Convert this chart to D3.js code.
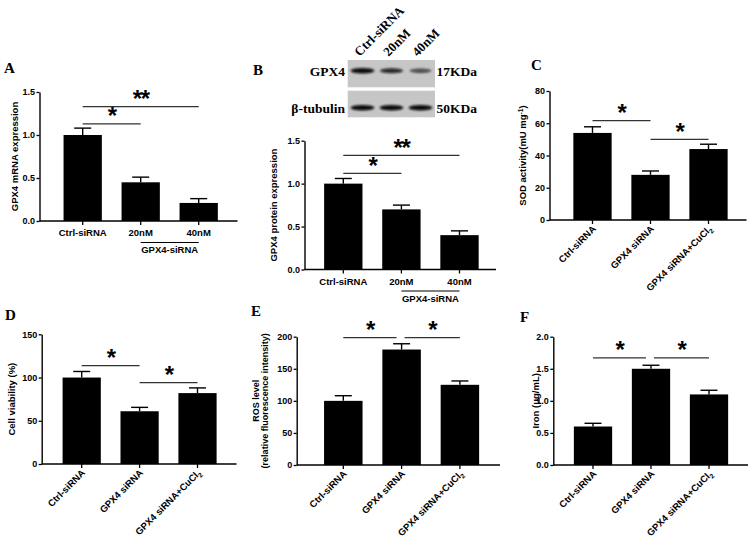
<!DOCTYPE html>
<html lang="en">
<head>
<meta charset="UTF-8">
<title>GPX4 knockdown panels</title>
<script src="https://d3js.org/d3.v7.min.js"></script>
<style>
  body { margin: 0; background: #fff; }
  text { font-family: "Liberation Sans", Arial, sans-serif; font-weight: bold; fill: #000; }
  .serif { font-family: "Liberation Serif", "Times New Roman", serif; }
</style>
</head>
<body>
<div id="chart"></div>
<script>
// ---- data ----
const doseGroups = ["Ctrl-siRNA", "20nM", "40nM"];
const rescueGroups = ["Ctrl-siRNA", "GPX4 siRNA", "GPX4 siRNA+CuCl_2"];

const mrnaMean = [1.0, 0.45, 0.21];
const mrnaErr = [0.08, 0.06, 0.05];
const proteinMean = [1.0, 0.70, 0.40];
const proteinErr = [0.06, 0.05, 0.05];
const sodMean = [54, 28, 44];
const sodErr = [3.8, 2.4, 3];
const viabilityMean = [100, 61, 82];
const viabilityErr = [7, 4.5, 6];
const rosMean = [100, 180, 125];
const rosErr = [8, 9, 6];
const ironMean = [0.6, 1.5, 1.1];
const ironErr = [0.05, 0.055, 0.065];

const ticksRatio = [0, 0.5, 1.0, 1.5];
const ticksSod = [0, 20, 40, 60, 80];
const ticksViability = [0, 50, 100, 150];
const ticksRos = [0, 50, 100, 150, 200];
const ticksIron = [0, 0.5, 1.0, 1.5, 2.0];

// significance brackets: [from, to, label, height in data units]
const sigMrna = [[0, 1, "*", 1.13], [0, 2, "**", 1.33]];
const sigProtein = [[0, 1, "*", 1.12], [0, 2, "**", 1.33]];
const sigSod = [[0, 1, "*", 61.6], [1, 2, "*", 50]];
const sigViability = [[0, 1, "*", 113.7], [1, 2, "*", 94]];
const sigRos = [[0, 1, "*", 198.5], [1, 2, "*", 198.5]];
const sigIron = [[0, 1, "*", 1.67], [1, 2, "*", 1.67]];

// western blot lanes and relative band strength
const blotLanes = ["Ctrl-siRNA", "20nM", "40nM"];
const gpx4Band = [1.0, 0.78, 0.5];
const tubulinBand = [1.0, 1.0, 1.0];

const w = 750;
const h = 544;

const svg = d3.select("#chart").append("svg")
    .attr("width", w)
    .attr("height", h);

const defs = svg.append("defs");
defs.append("filter").attr("id", "blur")
    .attr("x", "-20%").attr("y", "-80%").attr("width", "140%").attr("height", "260%")
    .append("feGaussianBlur").attr("stdDeviation", "1.1 1.0");

// write "a_2" as subscript, "a^-1" as superscript
function richText(sel, str, size) {
    const m = str.match(/^(.*?)([_^])(.+?)(\).*)?$/);
    if (!m) { sel.text(str); return; }
    sel.append("tspan").text(m[1]);
    const shift = m[2] === "_" ? 2.5 : -3.5;
    sel.append("tspan").attr("dy", shift).attr("font-size", size * 0.7).text(m[3]);
    if (m[4]) sel.append("tspan").attr("dy", -shift).text(m[4]);
}

function drawPanel(p) {
    const n = p.groups.length;
    const y = d3.scaleLinear().domain([0, p.yMax]).range([p.y0, p.yTop]);
    const x = d3.scaleBand()
        .domain(d3.range(n))
        .range([p.cx0 - p.step / 2, p.cx0 + p.step * (n - 0.5)])
        .paddingInner(0.34)
        .paddingOuter(0.17);
    const cx = i => x(i) + x.bandwidth() / 2;

    const g = svg.append("g");

    // error bars (upper only)
    const eb = g.selectAll("g.err").data(p.mean).join("g").attr("class", "err");
    eb.append("line")
        .attr("x1", (d, i) => cx(i)).attr("x2", (d, i) => cx(i))
        .attr("y1", d => y(d)).attr("y2", (d, i) => y(d + p.err[i]))
        .attr("stroke", "#000").attr("stroke-width", 1.4);
    eb.append("line")
        .attr("x1", (d, i) => cx(i) - 8.5).attr("x2", (d, i) => cx(i) + 8.5)
        .attr("y1", (d, i) => y(d + p.err[i])).attr("y2", (d, i) => y(d + p.err[i]))
        .attr("stroke", "#000").attr("stroke-width", 1.4);

    g.selectAll("rect.bar").data(p.mean).join("rect")
        .attr("class", "bar")
        .attr("x", (d, i) => x(i))
        .attr("width", x.bandwidth())
        .attr("y", d => y(d))
        .attr("height", d => y(0) - y(d))
        .attr("fill", "#000");

    // y axis
    const yAxis = d3.axisLeft(y).tickValues(p.ticks).tickFormat(p.fmt)
        .tickSize(3).tickSizeOuter(0).tickPadding(1.5);
    const ya = g.append("g")
        .attr("transform", "translate(" + p.axisX + ",0)")
        .call(yAxis);
    ya.select(".domain").attr("stroke-width", 1.4);
    ya.selectAll(".tick line").attr("stroke-width", 1.3);
    ya.selectAll("text").attr("font-size", 9).attr("fill", "#000")
        .style("font-family", "'Liberation Sans', Arial, sans-serif").style("font-weight", "bold");

    // x axis: baseline from the y axis to the end, ticks at bar centres
    const xAxis = d3.axisBottom(x).tickSize(4).tickSizeOuter(0).tickFormat("");
    const xa = g.append("g")
        .attr("transform", "translate(0," + p.y0 + ")")
        .call(xAxis);
    xa.select(".domain").remove();
    xa.selectAll(".tick line").attr("stroke-width", 1.3);
    g.append("line")
        .attr("x1", p.axisX).attr("x2", p.xEnd)
        .attr("y1", p.y0).attr("y2", p.y0)
        .attr("stroke", "#000").attr("stroke-width", 1.4);

    // category labels
    if (p.rotate) {
        g.selectAll("text.cat").data(p.groups).join("text")
            .attr("class", "cat")
            .attr("font-size", 9.5)
            .attr("text-anchor", "end")
            .attr("transform", (d, i) => "translate(" + (cx(i) + 4) + "," + (p.y0 + 9.5) + ") rotate(-45)")
            .each(function (d) { richText(d3.select(this), d, 9.5); });
    } else {
        g.selectAll("text.cat").data(p.groups).join("text")
            .attr("class", "cat")
            .attr("font-size", 9.5)
            .attr("text-anchor", "middle")
            .attr("x", (d, i) => cx(i))
            .attr("y", p.y0 + 15)
            .text(d => d);
        // group bracket under the siRNA doses
        g.append("line")
            .attr("x1", cx(1)).attr("x2", cx(2))
            .attr("y1", p.y0 + 21.5).attr("y2", p.y0 + 21.5)
            .attr("stroke", "#000").attr("stroke-width", 1.2);
        g.append("text")
            .attr("font-size", 9.5)
            .attr("text-anchor", "middle")
            .attr("x", (cx(1) + cx(2)) / 2)
            .attr("y", p.y0 + 32)
            .text(p.groupLabel);
    }

    // y label (one or two lines)
    const lines = Array.isArray(p.yLabel) ? p.yLabel : [p.yLabel];
    const ymid = (p.y0 + p.yTop) / 2;
    lines.forEach((t, k) => {
        const lx = p.axisX - p.yLabelOff + k * 9.5 - (lines.length - 1) * 9.5;
        const lt = g.append("text")
            .attr("font-size", lines.length > 1 ? 9 : 9.5)
            .attr("text-anchor", "middle")
            .attr("transform", "translate(" + lx + "," + ymid + ") rotate(-90)");
        richText(lt, t, 9.5);
    });

    // significance brackets
    p.sig.forEach(s => {
        let x1 = cx(s[0]);
        let x2 = cx(s[1]);
        if (p.sig.some(o => o !== s && o[0] === s[1] && o[3] === s[3])) x2 -= 5;
        if (p.sig.some(o => o !== s && o[1] === s[0] && o[3] === s[3])) x1 += 3;
        const ly = y(s[3]);
        g.append("line")
            .attr("x1", x1).attr("x2", x2)
            .attr("y1", ly).attr("y2", ly)
            .attr("stroke", "#333").attr("stroke-width", 1.3);
        g.append("text")
            .attr("font-size", 24)
            .attr("letter-spacing", -1.5)
            .attr("text-anchor", "middle")
            .attr("x", (x1 + x2) / 2)
            .attr("y", ly + 0.5)
            .text(s[2]);
    });

    // panel letter
    svg.append("text")
        .attr("class", "serif")
        .attr("font-size", 15)
        .attr("x", p.letterX).attr("y", p.letterY)
        .text(p.letter);
}

const fmt1 = d3.format(".1f");
const fmt0 = d3.format("d");

drawPanel({ letter: "A", letterX: 4, letterY: 73, groups: doseGroups, mean: mrnaMean, err: mrnaErr,
    ticks: ticksRatio, yMax: 1.5, fmt: fmt1, sig: sigMrna, yLabel: "GPX4 mRNA expression", groupLabel: "GPX4-siRNA",
    axisX: 39.5, y0: 221, yTop: 92, xEnd: 237.5, cx0: 82.7, step: 58, yLabelOff: 22, rotate: false });

drawPanel({ letter: "B", letterX: 253, letterY: 75, groups: doseGroups, mean: proteinMean, err: proteinErr,
    ticks: ticksRatio, yMax: 1.5, fmt: fmt1, sig: sigProtein, yLabel: "GPX4 protein expression", groupLabel: "GPX4-siRNA",
    axisX: 304.5, y0: 269.5, yTop: 140.7, xEnd: 496, cx0: 343.3, step: 58.1, yLabelOff: 27.5, rotate: false });

drawPanel({ letter: "C", letterX: 531, letterY: 70, groups: rescueGroups, mean: sodMean, err: sodErr,
    ticks: ticksSod, yMax: 80, fmt: fmt0, sig: sigSod, yLabel: "SOD activity(mU mg^-1)",
    axisX: 549.5, y0: 220, yTop: 91, xEnd: 746.5, cx0: 592.5, step: 58, yLabelOff: 23.3, rotate: true });

drawPanel({ letter: "D", letterX: 5, letterY: 320, groups: rescueGroups, mean: viabilityMean, err: viabilityErr,
    ticks: ticksViability, yMax: 150, fmt: fmt0, sig: sigViability, yLabel: "Cell viability (%)",
    axisX: 41.7, y0: 464, yTop: 334.3, xEnd: 236.5, cx0: 81.7, step: 57.9, yLabelOff: 26.7, rotate: true });

drawPanel({ letter: "E", letterX: 251, letterY: 316, groups: rescueGroups, mean: rosMean, err: rosErr,
    ticks: ticksRos, yMax: 200, fmt: fmt0, sig: sigRos, yLabel: ["ROS level", "(relative fluorescence intensity)"],
    axisX: 296.7, y0: 465, yTop: 336.7, xEnd: 500, cx0: 343.3, step: 58.3, yLabelOff: 28.5, rotate: true });

drawPanel({ letter: "F", letterX: 520, letterY: 322, groups: rescueGroups, mean: ironMean, err: ironErr,
    ticks: ticksIron, yMax: 2.0, fmt: fmt1, sig: sigIron, yLabel: "Iron (\u03bcg/mL)",
    axisX: 553.3, y0: 465, yTop: 336.7, xEnd: 748, cx0: 593, step: 58, yLabelOff: 14.3, rotate: true });

// ---- western blot in panel B ----
const lane = d3.scaleBand().domain(blotLanes).range([348, 435]).paddingInner(0.06).paddingOuter(0.03);
const rows = [
    { name: "GPX4", kda: "17KDa", top: 60, bottom: 87.3, band: gpx4Band, bandY: 70.7 },
    { name: "\u03b2-tubulin", kda: "50KDa", top: 90.7, bottom: 117.3, band: tubulinBand, bandY: 107.8 }
];
rows.forEach(r => {
    svg.append("rect")
        .attr("x", 347.7).attr("y", r.top)
        .attr("width", 87.3).attr("height", r.bottom - r.top)
        .attr("fill", "#c6c6c6");
    svg.append("g").attr("filter", "url(#blur)")
        .selectAll("ellipse").data(r.band).join("ellipse")
        .attr("cx", (d, i) => lane(blotLanes[i]) + lane.bandwidth() / 2)
        .attr("cy", r.bandY)
        .attr("rx", d => lane.bandwidth() * (0.36 + 0.08 * d))
        .attr("ry", d => 1.6 + 1.2 * d)
        .attr("fill", "#0a0a0a")
        .attr("opacity", d => 0.35 + 0.65 * d);
    svg.append("text").attr("class", "serif")
        .attr("font-size", 13.5).attr("text-anchor", "end")
        .attr("x", 345).attr("y", r.bandY + 4.8)
        .text(r.name);
    svg.append("text").attr("class", "serif")
        .attr("font-size", 13.5)
        .attr("x", 436.5).attr("y", r.bandY + 4.8)
        .text(r.kda);
});
svg.selectAll("text.lane").data(blotLanes).join("text")
    .attr("class", "lane serif")
    .attr("font-size", 13)
    .attr("transform", d => "translate(" + (lane(d) + lane.bandwidth() / 2 - 3) + ",57) rotate(-45)")
    .text(d => d);
</script>
</body>
</html>
